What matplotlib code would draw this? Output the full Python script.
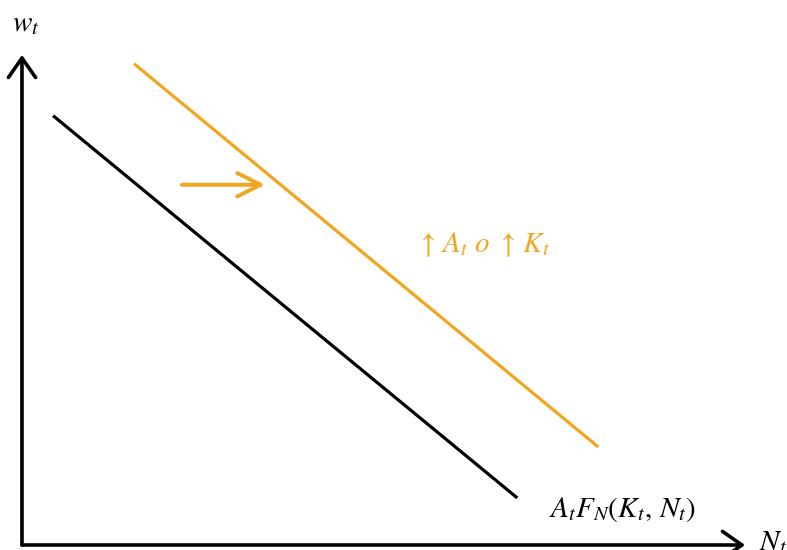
import matplotlib
matplotlib.use("Agg")
import matplotlib.pyplot as plt

plt.rcParams['mathtext.fontset'] = 'stix'
plt.rcParams['font.family'] = 'STIXGeneral'

# demand curves (N, w) in plot units
black_N = [0.43, 6.85]
black_w = [8.76, 0.96]
orange_N = [1.55, 7.97]
orange_w = [9.82, 2.0]
shift_N = [2.21, 3.36]
shift_w = [7.35, 7.35]

orange = '#F2A51E'

fig = plt.figure(figsize=(7.87, 5.5), dpi=100)
ax = fig.add_axes([0, 0, 1, 1])
ax.set_xlim(-0.304, 10.58)
ax.set_ylim(-0.102, 11.12)
ax.axis('off')

# axes with arrows
ax.annotate('', xy=(10.0, 0), xytext=(0, 0),
            arrowprops=dict(arrowstyle='->,head_length=0.5,head_width=0.35',
                            lw=2.6, color='black',
                            mutation_scale=28, shrinkA=0, shrinkB=0))
ax.annotate('', xy=(0, 10.0), xytext=(0, 0),
            arrowprops=dict(arrowstyle='->,head_length=0.5,head_width=0.35',
                            lw=2.6, color='black',
                            mutation_scale=28, shrinkA=0, shrinkB=0))

ax.plot(black_N, black_w, color='black', lw=2.3, solid_capstyle='butt')
ax.plot(orange_N, orange_w, color=orange, lw=2.3, solid_capstyle='butt')

ax.annotate('', xy=(shift_N[1], shift_w[1]), xytext=(shift_N[0], shift_w[0]),
            arrowprops=dict(arrowstyle='->,head_length=0.6,head_width=0.3',
                            lw=2.8, color=orange,
                            mutation_scale=28, shrinkA=0, shrinkB=0))

ax.text(0.05, 10.62, r'$w_t$', fontsize=21, ha='center', va='center')
ax.text(10.19, 0.05, r'$N_t$', fontsize=21, ha='left', va='center')
ax.text(8.3, 0.72, r'$A_tF_N(K_t,\,N_t)$', fontsize=21, ha='center', va='center')
ax.text(6.38, 6.12, r'$\uparrow\,A_t\ o\ \uparrow\,K_t$', fontsize=21,
        ha='center', va='center', color=orange)

fig.savefig('out.png', dpi=100)
